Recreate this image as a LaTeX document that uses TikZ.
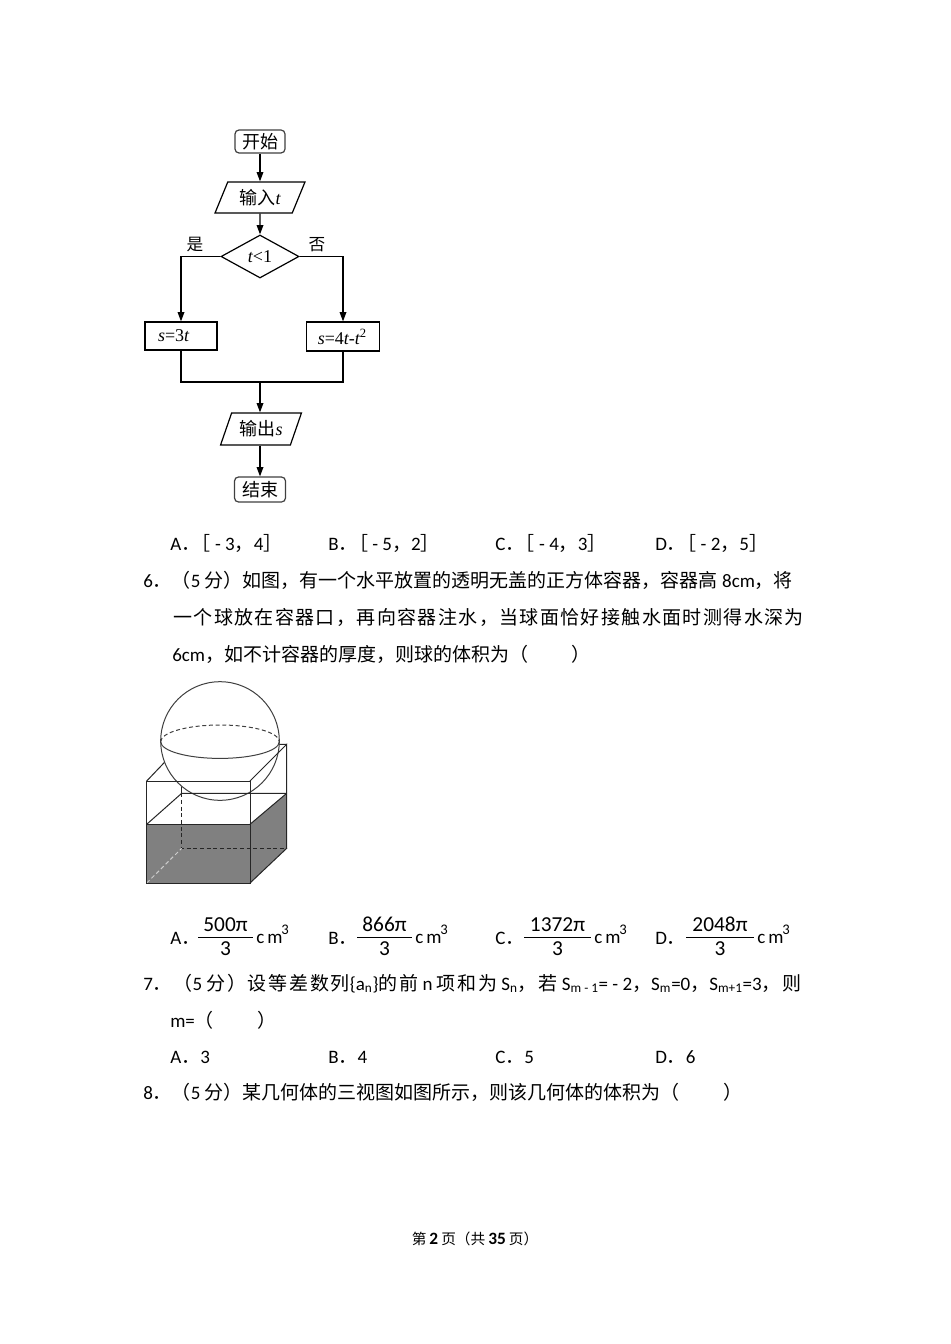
\documentclass[tikz,border=0pt]{standalone}
\usepackage{fontspec}
\setmainfont{Carlito}
\newfontfamily\cjk{Noto Sans CJK SC}
\newfontfamily\cjkw[LetterSpace=7.3]{Noto Sans CJK SC}
\newfontfamily\cjkv[LetterSpace=9]{Noto Sans CJK SC}
\newfontfamily\tms{Liberation Serif}
\usetikzlibrary{shapes.geometric,arrows.meta}
\definecolor{water}{RGB}{128,128,128}
\begin{document}
\begin{tikzpicture}[x=0.75pt,y=-0.75pt,
  txt/.style={anchor=base west,inner sep=0,font=\fontsize{14.25}{17}\selectfont},
  fc/.style={draw=black,line width=0.9pt,inner sep=0,font=\fontsize{13.5}{16}\selectfont},
  term/.style={fc,draw=black!75,rectangle,rounded corners=3pt},
  io/.style={fc,trapezium,trapezium left angle=64,trapezium right angle=116,trapezium stretches=true},
  dec/.style={fc,diamond,aspect=1.8},
  proc/.style={fc,rectangle},
  arr/.style={line width=0.9pt,-{Triangle[length=7pt,width=5pt]}},
  ln/.style={line width=0.9pt},
  lab/.style={inner sep=0,font=\fontsize{12.5}{14}\selectfont\cjk},
  cube/.style={line width=0.75pt,black!85},
  hid/.style={line width=0.75pt,black!85,dash pattern=on 3pt off 2pt},
  frac/.style={anchor=base,inner sep=0,font=\fontsize{16}{18}\selectfont},
  sup/.style={anchor=base west,inner sep=0,font=\fontsize{11}{12}\selectfont}]
\fill[white] (0,0) rectangle (950,1344);
\useasboundingbox (0,0) rectangle (950,1344);

% ---------- flowchart ----------
\node[term,minimum width=37.5pt,minimum height=17.25pt] (start) at (260,141.5) {\cjk 开始};
\node[io,minimum width=67.5pt,minimum height=23.25pt] (in) at (260,197.5) {{\cjk 输入}{\tms\itshape t}};
\node[dec,minimum width=58.5pt,minimum height=32.25pt] (d) at (260,256.5) {{\tms\itshape t}{\tms <1}};
\node[proc,minimum width=54pt,minimum height=21pt] (b1) at (181,336) {\makebox[54pt][l]{\hspace{9.75pt}\tms{\itshape s}=3{\itshape t}}};
\node[proc,minimum width=54.75pt,minimum height=21.75pt] (b2) at (343,336.5) {\makebox[54.75pt][l]{\hspace{8.5pt}\tms{\itshape s}=4{\itshape t}-{\itshape t}\textsuperscript{2}}};
\coordinate (m) at (260,382);
\node[io,minimum width=60.75pt,minimum height=24pt] (out) at (261,429) {{\cjk 输出}{\tms\itshape s}};
\node[term,minimum width=38.25pt,minimum height=18.75pt] (end) at (260,489.5) {\cjk 结束};
\node[lab] (yes) at (195,245) {是};
\node[lab] (no) at (317,245) {否};

\draw[arr] (start) -- (in);
\draw[arr] (in) -- (d);
\draw[arr] (d.west) -| (b1.north);
\draw[arr] (d.east) -| (b2.north);
\draw[ln] (b1.south) |- (m) -| (b2.south);
\draw[arr] (m) -- (m |- out.north);
\draw[arr] (end |- out.south) -- (end);

% ---------- text ----------
\node[txt] (o1a) at (170,550) {A{\cjk ．}\hspace{-0.45em}{\cjk ［}~-~3{\cjk ，}4{\cjk ］}};
\node[txt] (o1b) at (328,550) {B{\cjk ．}\hspace{-0.45em}{\cjk ［}~-~5{\cjk ，}2{\cjk ］}};
\node[txt] (o1c) at (495,550) {C{\cjk ．}\hspace{-0.45em}{\cjk ［}~-~4{\cjk ，}3{\cjk ］}};
\node[txt] (o1d) at (655,550) {D{\cjk ．}\hspace{-0.45em}{\cjk ［}~-~2{\cjk ，}5{\cjk ］}};

\node[txt] (q6a) at (143,587) {6{\cjk ．（}5 {\cjk 分）如图，有一个水平放置的透明无盖的正方体容器，容器高} 8cm{\cjk ，将}};
\node[txt] (q6b) at (173,624) {\cjkw 一个球放在容器口，再向容器注水，当球面恰好接触水面时测得水深为};
\node[txt] (q6c) at (172,661) {6cm{\cjk ，如不计容器的厚度，则球的体积为（\hspace{2.3em}）}};

% options with fractions
\node[txt] (o2a) at (170,944) {A{\cjk ．}};
\node[frac] (na) at (225.5,931) {500π};
\node[frac] (da) at (225.5,955) {3};
\draw[line width=0.6pt] (198,937) -- (253,937);
\node[txt] (ca) at (256,943) {c\,m};
\node[sup] (sa) at (281,934) {3};

\node[txt] (o2b) at (328,944) {B{\cjk ．}};
\node[frac] (nb) at (384.5,931) {866π};
\node[frac] (db) at (384.5,955) {3};
\draw[line width=0.6pt] (357,937) -- (412,937);
\node[txt] (cb) at (415,943) {c\,m};
\node[sup] (sb) at (440,934) {3};

\node[txt] (o2c) at (495,944) {C{\cjk ．}};
\node[frac] (nc) at (557.5,931) {1372π};
\node[frac] (dc) at (557.5,955) {3};
\draw[line width=0.6pt] (524,937) -- (591,937);
\node[txt] (cc) at (594,943) {c\,m};
\node[sup] (sc) at (619,934) {3};

\node[txt] (o2d) at (655,944) {D{\cjk ．}};
\node[frac] (nd) at (720,931) {2048π};
\node[frac] (dd) at (720,955) {3};
\draw[line width=0.6pt] (686,937) -- (754,937);
\node[txt] (cd) at (757,943) {c\,m};
\node[sup] (sd) at (782,934) {3};

\node[txt] (q7a) at (143,990) {7{\cjkv ．（}5 {\cjkv 分）设等差数列}\{a\textsubscript{n}\}{\cjkv 的前} n {\cjkv 项和为} S\textsubscript{n}{\cjkv ，若} S\textsubscript{m - 1}= - 2{\cjkv ，}S\textsubscript{m}=0{\cjkv ，}S\textsubscript{m+1}=3{\cjkv ，则}};
\node[txt] (q7b) at (170,1027) {m={\cjk （\hspace{2.3em}）}};

\node[txt] (o3a) at (170,1063) {A{\cjk ．}3};
\node[txt] (o3b) at (328,1063) {B{\cjk ．}4};
\node[txt] (o3c) at (495,1063) {C{\cjk ．}5};
\node[txt] (o3d) at (655,1063) {D{\cjk ．}6};

\node[txt] (q8) at (143,1099) {8{\cjk ．（}5 {\cjk 分）某几何体的三视图如图所示，则该几何体的体积为（\hspace{2.3em}）}};

\node[anchor=base,inner sep=0] (foot) at (475,1244) {{\fontsize{11}{12}\selectfont\cjk 第} {\fontsize{13}{14}\selectfont\bfseries 2} {\fontsize{11}{12}\selectfont\cjk 页（共} {\fontsize{13}{14}\selectfont\bfseries 35} {\fontsize{11}{12}\selectfont\cjk 页）}};

% ---------- cube with sphere ----------
\coordinate (FTL) at (146.7,781);   \coordinate (FTR) at (250,781);
\coordinate (FBL) at (146.7,883);   \coordinate (FBR) at (250,883);
\coordinate (BTL) at (181.7,744.3); \coordinate (BTR) at (286.7,744.3);
\coordinate (BBL) at (181.7,848.3); \coordinate (BBR) at (286.7,848.3);
\coordinate (FWL) at (146.7,824.3); \coordinate (FWR) at (250,824.3);
\coordinate (BWL) at (181.7,793.3); \coordinate (BWR) at (286.7,793.3);
\fill[water] (FWL) -- (FWR) -- (FBR) -- (FBL) -- cycle;
\fill[water] (FWR) -- (BWR) -- (BBR) -- (FBR) -- cycle;
\draw[hid] (BWL) -- (BBL) -- (BBR);
\draw[hid,white!80!black] (FBL) -- (BBL);
\draw[cube] (FTL) -- (BTL) -- (BTR);
\draw[cube] (BTL) -- (BWL);
% sphere
\fill[white] (220,741) circle[radius=59.3];
\draw[line width=0.75pt,black!75] (220,741) circle[radius=59.3];
\draw[line width=0.75pt,black!75,dash pattern=on 3pt off 2pt] (160.7,741.7) arc[start angle=180,end angle=360,x radius=59.3,y radius=16.7];
\draw[line width=0.75pt,black!75] (279.3,741.7) arc[start angle=0,end angle=180,x radius=59.3,y radius=16.7];
% visible edges
\draw[cube] (FTL) rectangle (FBR);
\draw[cube] (FWL) -- (FWR);
\draw[cube] (FTR) -- (BTR) -- (BBR) -- (FBR);
\draw[cube] (FWR) -- (BWR);
\draw[cube] (FWL) -- (BWL) -- (BWR);
\end{tikzpicture}
\end{document}
